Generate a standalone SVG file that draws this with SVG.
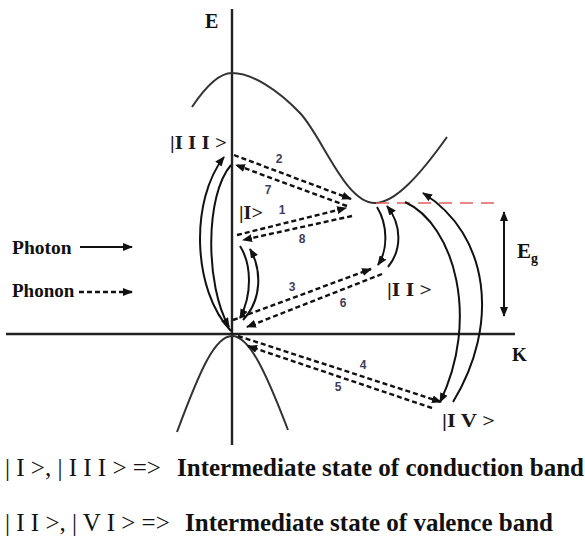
<svg xmlns="http://www.w3.org/2000/svg" width="585" height="539" viewBox="0 0 585 539">
<style>
.ax{stroke:#222;stroke-width:2.4;fill:none}
.band{stroke:#333;stroke-width:2;fill:none}
.ph{stroke:#111;stroke-width:2;fill:none;marker-end:url(#ah)}
.pn{stroke:#111;stroke-width:2.4;fill:none;stroke-dasharray:5 3;marker-end:url(#ah)}
.lab{font-family:"Liberation Serif","Times New Roman",serif;fill:#111}
.st{font-family:"Liberation Serif","Times New Roman",serif;fill:#1a1a1a;font-size:19px;font-weight:bold}
.num{font-family:"Liberation Sans",Arial,sans-serif;font-weight:bold;font-size:12px;fill:#3d3d5c;text-anchor:middle}
</style>
<defs>
<marker id="ah" markerUnits="userSpaceOnUse" markerWidth="10" markerHeight="8" refX="9" refY="4" orient="auto-start-reverse">
<path d="M0,0 L10,4 L0,8 z" fill="#111"/>
</marker>
</defs>
<g id="axes">
<line class="ax" x1="232" y1="9" x2="232" y2="445"/>
<line class="ax" x1="6" y1="334" x2="515" y2="334"/>
<text class="lab" x="205" y="28" font-size="20" font-weight="bold">E</text>
<text class="lab" x="512" y="361" font-size="19" font-weight="bold">K</text>
</g>
<g id="bands">
<path id="conduction-band" class="band" d="M192,107 C206,86 219,73 232,73 C252,73 278,90 300,113 C322,136 345,203 375,203 C395,203 420,175 447,137"/>
<path id="valence-band" class="band" d="M177,432 C200,370 215,336 232,336 C249,336 265,370 288,430"/>
<line id="gap-level" x1="376" y1="203" x2="500" y2="203" stroke="#e06060" stroke-width="1.5" stroke-dasharray="13 8"/>
</g>
<g id="eg">
<line x1="504" y1="212" x2="504" y2="316" stroke="#111" stroke-width="2" marker-start="url(#ah)" marker-end="url(#ah)"/>
<text class="lab" x="517" y="258" font-size="21" font-weight="bold">E<tspan font-size="14" dy="5">g</tspan></text>
</g>
<g id="state-III"><text class="st" x="170" y="149" textLength="57" lengthAdjust="spacingAndGlyphs">|I I I &gt;</text></g>
<g id="state-I"><text class="st" x="239" y="219" textLength="24" lengthAdjust="spacingAndGlyphs">|I&gt;</text></g>
<g id="state-II"><text class="st" x="387" y="296" textLength="45" lengthAdjust="spacingAndGlyphs">|I I &gt;</text></g>
<g id="state-IV"><text class="st" x="442" y="427" textLength="53" lengthAdjust="spacingAndGlyphs">|I V &gt;</text></g>
<g id="connectors">
<path class="ph" d="M231,331 C192,290 190,200 224,157"/>
<path class="ph" d="M231,165 C205,195 205,285 229,327"/>
<path class="ph" d="M240,246 C252,265 252,295 240,318"/>
<path class="ph" d="M243,320 C262,300 262,270 250,249"/>
<path class="ph" d="M377,207 C388,225 388,250 378,265"/>
<path class="ph" d="M388,267 C402,250 402,225 387,206"/>
<path class="ph" d="M405,202 C455,225 480,320 440,402"/>
<path class="ph" d="M453,402 C500,325 490,235 423,193"/>
<path class="pn" d="M234,155 L351,199"/>
<path class="pn" d="M347,206 L236,165"/>
<path class="pn" d="M237,235 L346,208"/>
<path class="pn" d="M352,216 L243,240"/>
<path class="pn" d="M233,320 L371,269"/>
<path class="pn" d="M382,274 L247,327"/>
<path class="pn" d="M238,336 L441,402"/>
<path class="pn" d="M432,408 L248,346"/>
</g>
<g id="step-numbers">
<text class="num" x="279" y="163">2</text>
<text class="num" x="268" y="194">7</text>
<text class="num" x="282" y="214">1</text>
<text class="num" x="302" y="243">8</text>
<text class="num" x="292" y="291">3</text>
<text class="num" x="343" y="307">6</text>
<text class="num" x="363" y="369">4</text>
<text class="num" x="338" y="391">5</text>
</g>
<g id="legend">
<text class="lab" x="12" y="254" font-size="19.5" font-weight="bold">Photon</text>
<line class="ph" x1="80" y1="247" x2="132" y2="247"/>
<text class="lab" x="12" y="297" font-size="19" font-weight="bold">Phonon</text>
<line class="pn" x1="79" y1="292" x2="132" y2="292"/>
</g>
<g id="caption">
<text class="lab" x="5" y="476" font-size="25">| I &gt;, | I I I &gt; =&gt;</text>
<text class="lab" x="177" y="476" font-size="25" font-weight="bold">Intermediate state of conduction band</text>
<text class="lab" x="5" y="531" font-size="25">| I I &gt;, | V I &gt; =&gt;</text>
<text class="lab" x="185" y="531" font-size="25" font-weight="bold">Intermediate state of valence band</text>
</g>
</svg>
